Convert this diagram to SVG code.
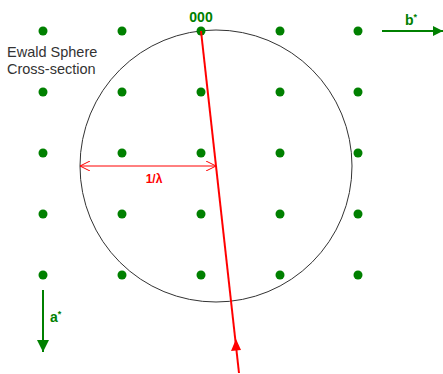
<svg xmlns="http://www.w3.org/2000/svg" width="443" height="374" viewBox="0 0 443 374">
<defs>
<style>
.dot{fill:#008000}
.lbl{font-family:"Liberation Sans",Arial,sans-serif}
.g{fill:#008000;font-weight:bold;font-size:14px}
</style>
<marker id="ga" viewBox="0 0 10 10" refX="10" refY="5" markerWidth="10" markerHeight="10" markerUnits="userSpaceOnUse" orient="auto"><path d="M0,0 L10,5 L0,10 Z" fill="#008000"/></marker>
<marker id="gb" viewBox="0 0 10 10" refX="10" refY="5" markerWidth="12" markerHeight="12" markerUnits="userSpaceOnUse" orient="auto"><path d="M0,0 L10,5 L0,10 Z" fill="#008000"/></marker>
<marker id="ro" viewBox="0 0 10 10" refX="10" refY="5" markerWidth="10" markerHeight="10" markerUnits="userSpaceOnUse" orient="auto-start-reverse"><path d="M0,0 L10,5 L0,10" fill="none" stroke="#ff0000" stroke-width="1"/></marker>
</defs>
<rect width="443" height="374" fill="#fff"/>
<g id="lattice">
<circle class="dot" cx="43" cy="31" r="4.5"/><circle class="dot" cx="122" cy="31" r="4.5"/><circle class="dot" cx="280" cy="31" r="4.5"/><circle class="dot" cx="358" cy="31" r="4.5"/>
<circle class="dot" cx="43" cy="92" r="4.5"/><circle class="dot" cx="122" cy="92" r="4.5"/><circle class="dot" cx="201" cy="92" r="4.5"/><circle class="dot" cx="280" cy="92" r="4.5"/><circle class="dot" cx="358" cy="92" r="4.5"/>
<circle class="dot" cx="43" cy="153" r="4.5"/><circle class="dot" cx="122" cy="153" r="4.5"/><circle class="dot" cx="201" cy="153" r="4.5"/><circle class="dot" cx="280" cy="153" r="4.5"/><circle class="dot" cx="358" cy="153" r="4.5"/>
<circle class="dot" cx="43" cy="214" r="4.5"/><circle class="dot" cx="122" cy="214" r="4.5"/><circle class="dot" cx="201" cy="214" r="4.5"/><circle class="dot" cx="280" cy="214" r="4.5"/><circle class="dot" cx="358" cy="214" r="4.5"/>
<circle class="dot" cx="43" cy="275" r="4.5"/><circle class="dot" cx="122" cy="275" r="4.5"/><circle class="dot" cx="201" cy="275" r="4.5"/><circle class="dot" cx="280" cy="275" r="4.5"/><circle class="dot" cx="358" cy="275" r="4.5"/>
</g>
<g id="sphere">
<circle cx="216" cy="166" r="136" fill="none" stroke="#333" stroke-width="1"/>
<text class="lbl" x="7" y="57" font-size="14.5" fill="#333">Ewald Sphere</text>
<text class="lbl" x="7" y="74" font-size="14.5" fill="#333">Cross-section</text>
</g>
<g id="origin">
<circle class="dot" cx="201" cy="31" r="4.5"/>
<text class="lbl g" x="201" y="22" text-anchor="middle">000</text>
</g>
<g id="connectors">
<line x1="201" y1="31" x2="239" y2="373" stroke="#ff0000" stroke-width="2"/>
<path d="M236,339 L231,351 L241,350 Z" fill="#ff0000"/>
<line x1="80" y1="166" x2="216" y2="166" stroke="#ff0000" stroke-width="1" marker-start="url(#ro)" marker-end="url(#ro)"/>
<line x1="382" y1="31" x2="443" y2="31" stroke="#008000" stroke-width="2" marker-end="url(#ga)"/>
<line x1="43" y1="290" x2="43" y2="352" stroke="#008000" stroke-width="2" marker-end="url(#gb)"/>
</g>
<g id="labels">
<text class="lbl" x="154" y="183" text-anchor="middle" font-size="12" font-weight="bold" fill="#ff0000">1/λ</text>
<text class="lbl g" x="405" y="25">b<tspan font-size="9" dy="-5">*</tspan></text>
<text class="lbl g" x="50" y="322">a<tspan font-size="9" dy="-5">*</tspan></text>
</g>
</svg>
